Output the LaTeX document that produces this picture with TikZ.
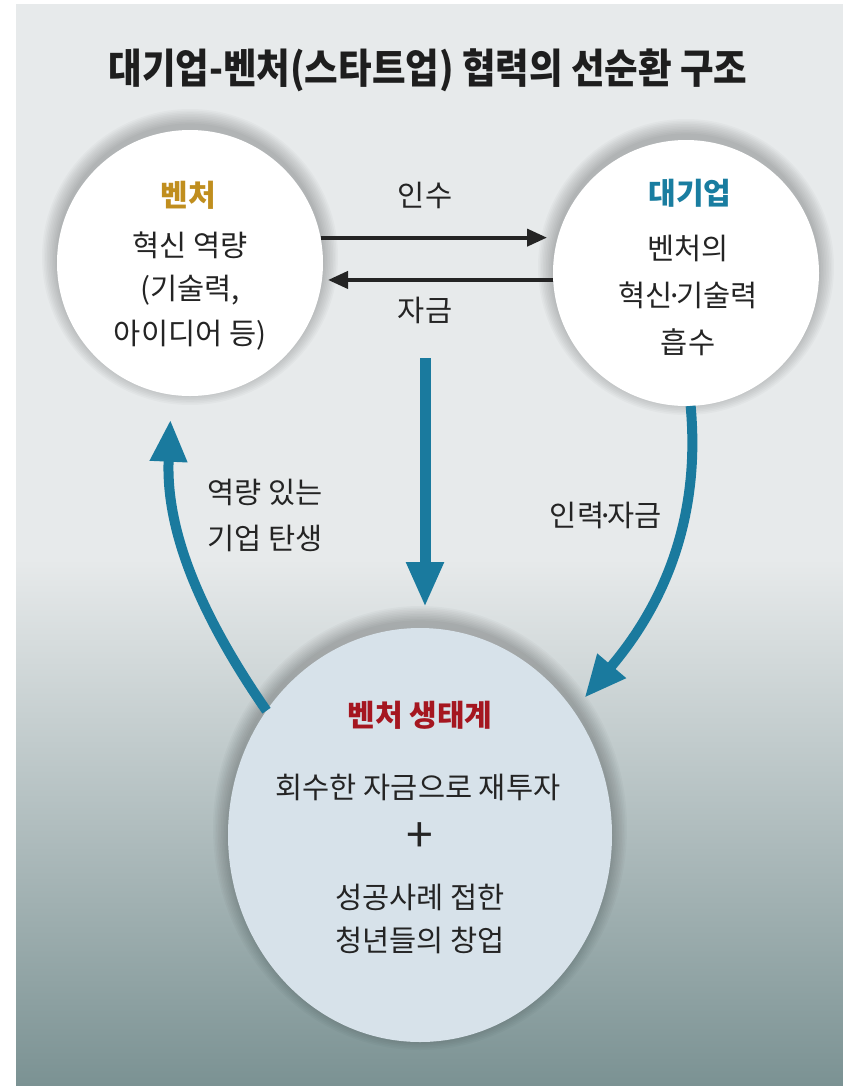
\documentclass[tikz,border=0pt]{standalone}
\usepackage{fontspec}
\usetikzlibrary{arrows.meta,shapes.geometric,calc}
\setmainfont{Noto Sans CJK KR}
\newfontfamily\krfont{Noto Sans CJK KR}
\definecolor{bgtop}{HTML}{E7EAEB}
\definecolor{bgmid}{HTML}{B9C6C7}
\definecolor{bgbot}{HTML}{7B9293}
\definecolor{tealarr}{RGB}{26,122,158}
\definecolor{goldtxt}{RGB}{192,142,30}
\definecolor{corptxt}{RGB}{25,125,160}
\definecolor{ecored}{RGB}{165,22,32}
\definecolor{ink}{HTML}{242424}
\definecolor{ecofill}{HTML}{D7E2EA}
\newcommand{\mdot}{\kern-0.22em·\kern-0.22em}
\begin{document}
\begin{tikzpicture}[x=1pt,y=-1pt,
  txt/.style={inner sep=0pt, outer sep=0pt, text=ink, font=\krfont\fontsize{29.5}{29.5}\selectfont},
  headtxt/.style={inner sep=0pt, outer sep=0pt, font=\krfont\bfseries\fontsize{30}{30}\selectfont},
  bubble/.style={circle, inner sep=0pt, outer sep=0pt, minimum size=266pt},
  blackarrow/.style={draw=ink, line width=4pt, -{Triangle[length=20pt,width=17pt]}},
  tealarrow/.style={draw=tealarr, line width=10pt, -{Triangle[length=42pt,width=35pt]}},
  halo/.style={fill=black, opacity=0.022}
]
\useasboundingbox (0,0) rectangle (843,1088);
\fill[white] (0,0) rectangle (843,1088);
\fill[bgtop] (16,4) rectangle (843,560);
\shade[top color=bgtop, middle color=bgmid, bottom color=bgbot] (16,559) rectangle (843,1085);

% soft shadows
\foreach \k in {1,...,10}{
  \fill[halo] (190,257) circle[radius=132+1.6*\k];
  \fill[halo] (686,267) circle[radius=132+1.6*\k];
  \fill[halo] (420,828) ellipse[x radius=191+1.6*\k, y radius=206+1.6*\k];
}

% bubbles
\node[bubble, fill=white] (venture) at (190,263) {};
\node[bubble, fill=white] (bigcorp) at (686,273) {};
\node[ellipse, fill=ecofill, inner sep=0pt, outer sep=0pt, minimum width=384pt, minimum height=414pt] (eco) at (420,835) {};

% title
\node[inner sep=0pt, text={rgb,255:red,30;green,30;blue,30}, font=\krfont\bfseries\fontsize{36.5}{36.5}\selectfont] (title) at (428,70) {\scalebox{1}[1.12]{대기업-벤처(스타트업) 협력의 선순환 구조}};

% venture text
\node[headtxt, text=goldtxt] (vhead) at (188,195) {벤처};
\node[txt] (v1) at (190,245) {혁신 역량};
\node[txt] (v2) at (190,290) {(기술력,};
\node[txt] (v3) at (190,335) {아이디어 등)};

% big corp text
\node[headtxt, text=corptxt] (chead) at (690,193) {대기업};
\node[txt] (c1) at (688,248) {벤처의};
\node[txt] (c2) at (688,295) {혁신\mdot 기술력};
\node[txt] (c3) at (688,342) {흡수};

% eco text
\node[headtxt, text=ecored] (ehead) at (420,715) {벤처 생태계};
\node[txt] (e1) at (418,787) {회수한 자금으로 재투자};
\node[txt, font=\krfont\fontsize{48}{48}\selectfont] (eplus) at (420,838) {+};
\node[txt] (e2) at (420,897) {성공사례 접한};
\node[txt] (e3) at (420,940) {청년들의 창업};

% black arrows
\draw[blackarrow, shorten >=6pt] (venture.11) -- (venture.11 -| bigcorp.west);
\draw[blackarrow, shorten >=5pt] (bigcorp.183) -- (bigcorp.183 -| venture.east);
\node[txt] (acq) at (425,195) {인수};
\node[txt] (fund) at (425,310) {자금};

% teal arrows
\coordinate (vtop) at (425,358);
\draw[tealarrow, line width=11pt, -{Triangle[length=45pt,width=35pt]}, shorten >=21pt] (vtop) -- (vtop |- eco.north);
\draw[tealarrow, shorten >=25pt] (eco.141) .. controls (190,600) and (166,520) .. (venture.262);
\draw[tealarrow, shorten >=17pt] (bigcorp.272) .. controls (702,530) and (655,615) .. (eco.39);

% arrow labels
\node[txt] (born1) at (265,492) {역량 있는};
\node[txt] (born2) at (265,538) {기업 탄생};
\node[txt] (hrfund) at (606,515) {인력\mdot 자금};
\end{tikzpicture}
\end{document}
